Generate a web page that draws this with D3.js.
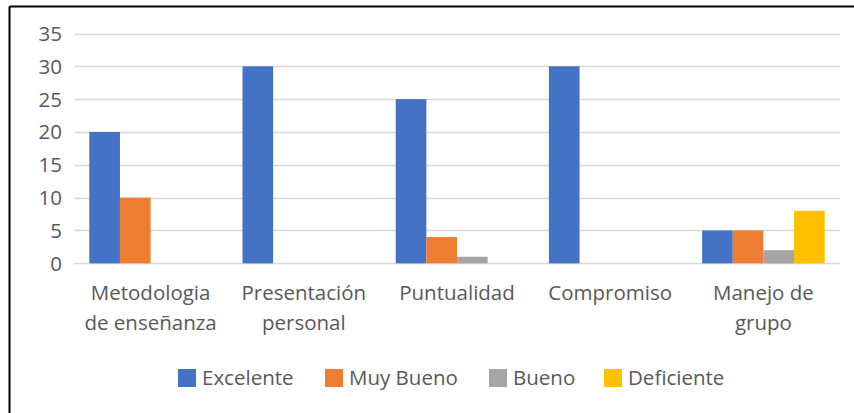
<!DOCTYPE html>
<html lang="en">
<head>
    <meta charset="UTF-8" />
    <title>Evaluación docente</title>
    <script src="https://d3js.org/d3.v7.min.js"></script>
    <style>
        body { margin: 0; background: #fff; }
        svg { display: block; font-family: "Open Sans", sans-serif; }
    </style>
</head>
<body>
    <svg id="chart" width="854" height="413"></svg>
    <script>
        const categories = [
            ["Metodologia", "de enseñanza"],
            ["Presentación", "personal"],
            ["Puntualidad"],
            ["Compromiso"],
            ["Manejo de", "grupo"]
        ];
        const seriesNames = ["Excelente", "Muy Bueno", "Bueno", "Deficiente"];
        const seriesColors = ["#4472C4", "#ED7D31", "#A5A5A5", "#FFC000"];
        const excelente = [20, 30, 25, 30, 5];
        const muyBueno = [10, 0, 4, 0, 5];
        const bueno = [0, 0, 1, 0, 2];
        const deficiente = [0, 0, 0, 0, 8];
        const yTicks = [0, 5, 10, 15, 20, 25, 30, 35];

        const series = [excelente, muyBueno, bueno, deficiente];
        const svg = d3.select("#chart");
        const fontSize = 20.5;

        // frame (top and left edges only, as in the cropped screenshot)
        svg.append("line").attr("x1", 9.5).attr("x2", 854).attr("y1", 6.5).attr("y2", 6.5)
            .attr("stroke", "#000").attr("stroke-width", 2);
        svg.append("line").attr("x1", 9.5).attr("x2", 9.5).attr("y1", 6.5).attr("y2", 413)
            .attr("stroke", "#000").attr("stroke-width", 2);

        const left = 74, right = 840;
        const y = d3.scaleLinear().domain([0, 35]).range([263.3, 33.5]);
        const x0 = d3.scaleBand().domain(d3.range(categories.length)).range([left, right]);
        const x1 = d3.scaleBand().domain(d3.range(series.length))
            .range([0, x0.bandwidth()]).paddingOuter(0.5).paddingInner(0);

        // gridlines
        svg.append("g").selectAll("line").data(yTicks).join("line")
            .attr("x1", left).attr("x2", right)
            .attr("y1", d => Math.round(y(d)) + 0.5).attr("y2", d => Math.round(y(d)) + 0.5)
            .attr("stroke", "#D9D9D9").attr("stroke-width", 1.3);

        // y labels
        svg.append("g").selectAll("text").data(yTicks).join("text")
            .attr("x", 62).attr("y", d => y(d)).attr("dy", "0.36em")
            .attr("text-anchor", "end").attr("fill", "#595959").attr("font-size", fontSize)
            .text(d => d);

        // bars
        const groups = svg.append("g").selectAll("g").data(categories).join("g")
            .attr("transform", (d, i) => `translate(${x0(i)},0)`);
        groups.selectAll("rect")
            .data((d, i) => series.map((s, j) => ({ j, v: s[i] })))
            .join("rect")
            .attr("x", d => x1(d.j)).attr("width", x1.bandwidth())
            .attr("y", d => y(d.v)).attr("height", d => y(0) - y(d.v))
            .attr("fill", d => seriesColors[d.j]);

        // category labels
        const labels = svg.append("g").selectAll("text").data(categories).join("text")
            .attr("text-anchor", "middle").attr("fill", "#595959").attr("font-size", fontSize)
            .attr("transform", (d, i) => `translate(${x0(i) + x0.bandwidth() / 2},300)`);
        labels.selectAll("tspan").data(d => d).join("tspan")
            .attr("x", 0).attr("y", (d, k) => k * 30).text(d => d);

        // legend
        const legendX = [178, 325, 489, 604];
        const legend = svg.append("g").selectAll("g").data(seriesNames).join("g")
            .attr("transform", (d, i) => `translate(${legendX[i]},369)`);
        legend.append("rect").attr("width", 18).attr("height", 18)
            .attr("fill", (d, i) => seriesColors[i]);
        legend.append("text").attr("x", 24).attr("y", 9).attr("dy", "0.36em")
            .attr("fill", "#595959").attr("font-size", fontSize).text(d => d);
    </script>
</body>
</html>
